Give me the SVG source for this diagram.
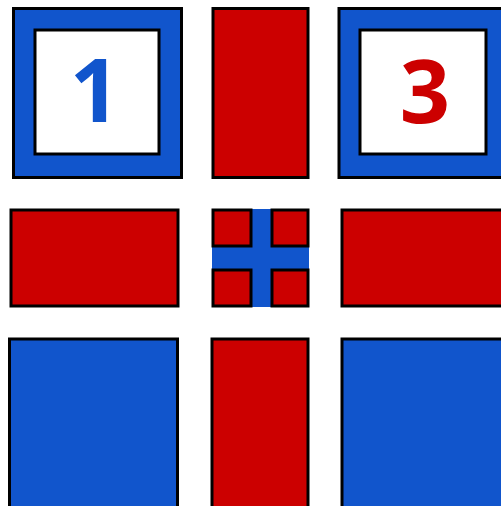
<svg xmlns="http://www.w3.org/2000/svg" width="501" height="506" viewBox="0 0 501 506">
<style>
.b{fill:#1155cc;stroke:#000;stroke-width:3}
.r{fill:#cc0000;stroke:#000;stroke-width:3}
.w{fill:#fff;stroke:#000;stroke-width:3}
.t{font-family:"Open Sans","Noto Sans",sans-serif;font-weight:700;font-size:88px;text-anchor:middle}
</style>
<rect width="501" height="506" fill="#fff"/>
<g id="n1">
<rect class="b" x="13.5" y="8.5" width="168" height="169"/>
<rect class="w" x="35" y="30" width="124" height="124"/>
<text class="t" x="95" y="122" fill="#1155cc">1</text>
</g>
<g id="n2"><rect class="r" x="213" y="8.5" width="95" height="169"/></g>
<g id="n3">
<rect class="b" x="339" y="8.5" width="180" height="169"/>
<rect class="w" x="360" y="30" width="126" height="124"/>
<text class="t" x="425" y="123" fill="#cc0000">3</text>
</g>
<g id="n4"><rect class="r" x="11" y="210" width="167" height="96"/></g>
<g id="n5">
<rect x="212" y="209" width="97" height="98" fill="#1155cc"/>
<rect class="r" x="213" y="210" width="38" height="36"/>
<rect class="r" x="272" y="210" width="36" height="36"/>
<rect class="r" x="213" y="270" width="38" height="36"/>
<rect class="r" x="272" y="270" width="36" height="36"/>
</g>
<g id="n6"><rect class="r" x="342" y="210" width="180" height="96"/></g>
<g id="n7"><rect class="b" x="9.5" y="339" width="168" height="180"/></g>
<g id="n8"><rect class="r" x="212" y="339" width="96" height="180"/></g>
<g id="n9"><rect class="b" x="342" y="339" width="180" height="180"/></g>
<g id="connectors"/>
</svg>
